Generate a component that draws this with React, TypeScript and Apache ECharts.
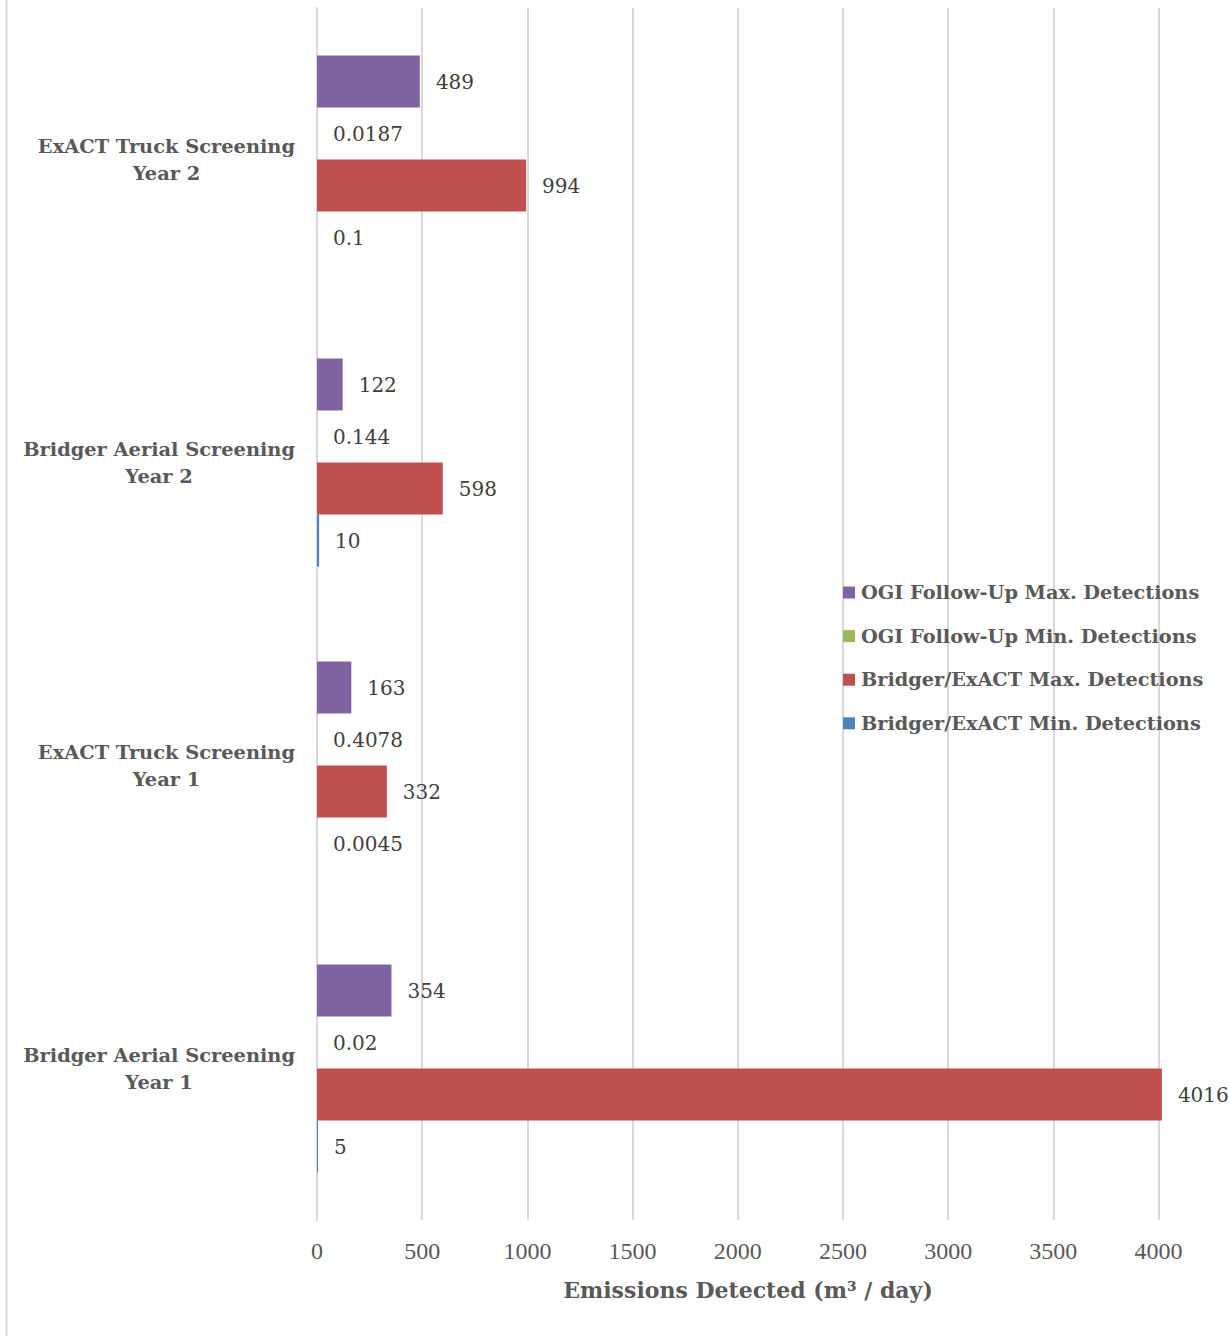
import React, { useEffect, useRef } from "react";
import * as echarts from "echarts";

// Categories listed bottom-to-top (value axis is horizontal, category axis vertical)
const categories = [
  "Bridger Aerial Screening\nYear 1",
  "ExACT Truck Screening\nYear 1",
  "Bridger Aerial Screening\nYear 2",
  "ExACT Truck Screening\nYear 2",
];

const seriesNames = [
  "OGI Follow-Up Max. Detections",
  "OGI Follow-Up Min. Detections",
  "Bridger/ExACT Max. Detections",
  "Bridger/ExACT Min. Detections",
];

const ogiMax = [354, 163, 122, 489];
const ogiMin = [0.02, 0.4078, 0.144, 0.0187];
const bexMax = [4016, 332, 598, 994];
const bexMin = [5, 0.0045, 10, 0.1];

const seriesColors = ["#8064A2", "#9BBB59", "#C0504D", "#4F81BD"];

// The plot runs on past the right edge of the chart, so the visible extent stops short of 4500
const xTicks = { min: 0, max: 4335, interval: 500 };

const xTitle = "Emissions Detected (m³ / day)";

const SERIF = "'DejaVu Serif', serif";
const SERIF_NARROW = "'Liberation Serif', serif";

export default function App() {
  const ref = useRef<HTMLDivElement>(null);

  useEffect(() => {
    document.body.style.margin = "0";
    if (!ref.current) return;
    const chart = echarts.init(ref.current, undefined, { renderer: "svg" });

    const values = [ogiMax, ogiMin, bexMax, bexMin];
    const series = values.map((data, i) => ({
      name: seriesNames[i],
      type: "bar",
      data,
      barWidth: 52,
      barGap: "0%",
      itemStyle: { color: seriesColors[i] },
      label: {
        show: true,
        position: "right",
        distance: 16,
        color: "#404040",
        fontFamily: SERIF,
        fontSize: 20,
        formatter: (p: any) => String(p.value),
      },
    }));

    chart.setOption({
      animation: false,
      backgroundColor: "#ffffff",
      grid: { left: 317, top: 8, right: 0, bottom: 116, containLabel: false },
      xAxis: {
        type: "value",
        min: xTicks.min,
        max: xTicks.max,
        interval: xTicks.interval,
        axisLine: { show: false },
        axisTick: { show: false },
        axisLabel: {
          margin: 19,
          fontFamily: SERIF_NARROW,
          fontSize: 24,
          color: "#595959",
          showMaxLabel: false,
          formatter: (v: number) => String(v),
        },
        splitLine: {
          show: true,
          showMaxLine: false,
          lineStyle: { color: "#d9d9d9", width: 2 },
        },
      },
      yAxis: {
        type: "category",
        data: categories,
        axisLine: { show: true, lineStyle: { color: "#d9d9d9", width: 2 } },
        axisTick: { show: false },
        axisLabel: {
          margin: 22,
          align: "right",
          formatter: (v: string) =>
            v
              .split("\n")
              .map((line) => `{c|${line}}`)
              .join("\n"),
          rich: {
            c: {
              align: "center",
              fontFamily: SERIF,
              fontWeight: "bold",
              fontSize: 19.4,
              lineHeight: 27,
              color: "#595959",
            },
          },
        },
      },
      legend: {
        orient: "vertical",
        left: 843,
        top: 583,
        padding: 0,
        itemWidth: 12,
        itemHeight: 12,
        itemGap: 24.6,
        icon: "rect",
        data: seriesNames,
        textStyle: {
          fontFamily: SERIF,
          fontWeight: "bold",
          fontSize: 19.3,
          color: "#595959",
          padding: [0, 0, 0, 1],
        },
      },
      graphic: [
        {
          type: "line",
          shape: { x1: 6.5, y1: 0, x2: 6.5, y2: 1336 },
          style: { stroke: "#d9d9d9", lineWidth: 2 },
        },
        {
          type: "text",
          x: 748,
          y: 1290,
          style: {
            text: xTitle,
            align: "center",
            verticalAlign: "middle",
            fontFamily: SERIF,
            fontWeight: "bold",
            fontSize: 22,
            fill: "#595959",
          },
        },
      ],
      series,
    });

    return () => chart.dispose();
  }, []);

  return <div ref={ref} style={{ width: 1229, height: 1336 }} />;
}
